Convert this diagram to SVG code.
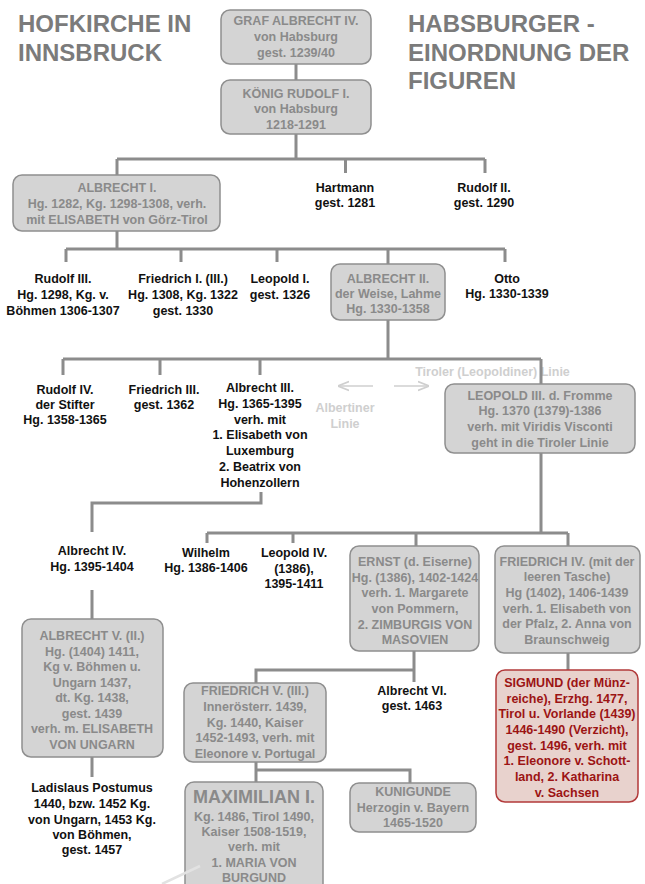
<svg xmlns="http://www.w3.org/2000/svg" width="645" height="884" viewBox="0 0 645 884">
<style>
text{font-family:"Liberation Sans",Arial,sans-serif;font-weight:bold;font-size:12.5px;text-anchor:middle}
.t{fill:#111}
.g{fill:#8a8a8a}
.r{fill:#9c1414}
.title{font-size:24px;fill:#7b7b7b;text-anchor:start}
.faint{fill:#cfcfcf}
.box{fill:#d4d4d4;stroke:#8f8f8f;stroke-width:1.5}
.rbox{fill:#e8d2cd;stroke:#b23a3a;stroke-width:1.5}
.c{fill:none;stroke:#8c8c8c;stroke-width:3}
.big{font-size:18px}
</style>
<defs>
<marker id="ah" viewBox="0 0 10 10" refX="9" refY="5" markerWidth="7" markerHeight="7" orient="auto">
<path d="M0,1 L10,5 L0,9" fill="none" stroke="#cfcfcf" stroke-width="1.6"/>
</marker>
</defs>
<rect width="645" height="884" fill="#fff"/>

<g id="titles">
<text class="title" x="18" y="32">HOFKIRCHE IN</text>
<text class="title" x="18" y="61">INNSBRUCK</text>
<text class="title" x="408" y="32">HABSBURGER -</text>
<text class="title" x="408" y="61">EINORDNUNG DER</text>
<text class="title" x="408" y="89">FIGUREN</text>
</g>

<g id="connectors">
<path class="c" d="M296,64 V80"/>
<path class="c" d="M296,134 V159 M117,159 H485 M117,159 V175 M345.5,159 V173 M485,159 V173"/>
<path class="c" d="M117,231 V249 M66,249 H505 M66,249 V262 M181,249 V262 M277,249 V262 M388,249 V264 M505,249 V262"/>
<path class="c" d="M388,320 V359 M63,359 H541 M63,359 V375 M160,359 V375 M260,359 V375"/>
<path class="c" d="M261,492 V503 H92 V532"/>
<path class="c" d="M92,590 V619 M92,757 V777"/>
<path class="c" d="M541,453 V533 M207,533 H568 M207,533 V543 M293,533 V543 M416,533 V546 M568,533 V546"/>
<path class="c" d="M568,653 V670"/>
<path class="c" d="M414,651 V682 M414,670 H256 V683"/>
<path class="c" d="M256,762 V782 M256,770 H410 V783"/>
</g>

<g id="lines-labels">
<text class="faint" x="492.5" y="375.5">Tiroler (Leopoldiner) Linie</text>
<path d="M541,359 V384" class="c"/>
<line x1="373" y1="386" x2="339" y2="386" stroke="#cfcfcf" stroke-width="1.6" marker-end="url(#ah)"/>
<line x1="394" y1="386" x2="428" y2="386" stroke="#cfcfcf" stroke-width="1.6" marker-end="url(#ah)"/>
<text class="faint" x="345"><tspan x="345" y="411.5">Albertiner</tspan><tspan x="345" y="427.5">Linie</tspan></text>
</g>

<g id="graf-albrecht-iv">
<rect class="box" x="221" y="10" width="150" height="54" rx="9"/>
<text class="g"><tspan x="296" y="24.5">GRAF ALBRECHT IV.</tspan><tspan x="296" y="41">von Habsburg</tspan><tspan x="296" y="57">gest. 1239/40</tspan></text>
</g>
<g id="rudolf-i">
<rect class="box" x="221" y="80" width="150" height="54" rx="9"/>
<text class="g"><tspan x="296" y="97.5">KÖNIG RUDOLF I.</tspan><tspan x="296" y="113">von Habsburg</tspan><tspan x="296" y="128.5">1218-1291</tspan></text>
</g>
<g id="albrecht-i">
<rect class="box" x="13" y="175" width="207" height="56" rx="9"/>
<text class="g"><tspan x="117" y="191.5">ALBRECHT I.</tspan><tspan x="117" y="207.5">Hg. 1282, Kg. 1298-1308, verh.</tspan><tspan x="117" y="223.5">mit ELISABETH von Görz-Tirol</tspan></text>
</g>
<g id="hartmann">
<text class="t"><tspan x="345" y="191.5">Hartmann</tspan><tspan x="345" y="206.5">gest. 1281</tspan></text>
</g>
<g id="rudolf-ii">
<text class="t"><tspan x="484" y="191.5">Rudolf II.</tspan><tspan x="484" y="206.5">gest. 1290</tspan></text>
</g>
<g id="rudolf-iii">
<text class="t"><tspan x="63" y="282.5">Rudolf III.</tspan><tspan x="63" y="298.5">Hg. 1298, Kg. v.</tspan><tspan x="63" y="314.5">Böhmen 1306-1307</tspan></text>
</g>
<g id="friedrich-i">
<text class="t"><tspan x="183" y="282.5">Friedrich I. (III.)</tspan><tspan x="183" y="298.5">Hg. 1308, Kg. 1322</tspan><tspan x="183" y="314.5">gest. 1330</tspan></text>
</g>
<g id="leopold-i">
<text class="t"><tspan x="280" y="282.5">Leopold I.</tspan><tspan x="280" y="298.5">gest. 1326</tspan></text>
</g>
<g id="albrecht-ii">
<rect class="box" x="331" y="264" width="114" height="56" rx="9"/>
<text class="g"><tspan x="388" y="282.5">ALBRECHT II.</tspan><tspan x="388" y="297.5">der Weise, Lahme</tspan><tspan x="388" y="312.5">Hg. 1330-1358</tspan></text>
</g>
<g id="otto">
<text class="t"><tspan x="507" y="282.5">Otto</tspan><tspan x="507" y="297.5">Hg. 1330-1339</tspan></text>
</g>
<g id="rudolf-iv">
<text class="t"><tspan x="65" y="393.5">Rudolf IV.</tspan><tspan x="65" y="408.5">der Stifter</tspan><tspan x="65" y="423.5">Hg. 1358-1365</tspan></text>
</g>
<g id="friedrich-iii">
<text class="t"><tspan x="164" y="393.5">Friedrich III.</tspan><tspan x="164" y="408.5">gest. 1362</tspan></text>
</g>
<g id="albrecht-iii">
<text class="t"><tspan x="260" y="391.5">Albrecht III.</tspan><tspan x="260" y="407.5">Hg. 1365-1395</tspan><tspan x="260" y="423.5">verh. mit</tspan><tspan x="260" y="439">1. Elisabeth von</tspan><tspan x="260" y="455">Luxemburg</tspan><tspan x="260" y="470.5">2. Beatrix von</tspan><tspan x="260" y="486.5">Hohenzollern</tspan></text>
</g>
<g id="leopold-iii">
<rect class="box" x="445" y="384" width="190" height="69" rx="9"/>
<text class="g"><tspan x="540" y="399.5">LEOPOLD III. d. Fromme</tspan><tspan x="540" y="414.5">Hg. 1370 (1379)-1386</tspan><tspan x="540" y="430.5">verh. mit Viridis Visconti</tspan><tspan x="540" y="446.5">geht in die Tiroler Linie</tspan></text>
</g>
<g id="albrecht-iv">
<text class="t"><tspan x="92" y="554.5">Albrecht IV.</tspan><tspan x="92" y="570.5">Hg. 1395-1404</tspan></text>
</g>
<g id="wilhelm">
<text class="t"><tspan x="206" y="557">Wilhelm</tspan><tspan x="206" y="572">Hg. 1386-1406</tspan></text>
</g>
<g id="leopold-iv">
<text class="t"><tspan x="294" y="557">Leopold IV.</tspan><tspan x="294" y="572.5">(1386),</tspan><tspan x="294" y="587.5">1395-1411</tspan></text>
</g>
<g id="ernst">
<rect class="box" x="350" y="546" width="129" height="105" rx="9"/>
<text class="g"><tspan x="415" y="565.5">ERNST (d. Eiserne)</tspan><tspan x="415" y="581.5">Hg. (1386), 1402-1424</tspan><tspan x="415" y="596.5">verh. 1. Margarete</tspan><tspan x="415" y="612.5">von Pommern,</tspan><tspan x="415" y="628.5">2. ZIMBURGIS VON</tspan><tspan x="415" y="643.5">MASOVIEN</tspan></text>
</g>
<g id="friedrich-iv">
<rect class="box" x="495" y="546" width="145" height="107" rx="9"/>
<text class="g"><tspan x="567" y="565.5">FRIEDRICH IV. (mit der</tspan><tspan x="567" y="580.5">leeren Tasche)</tspan><tspan x="567" y="596.5">Hg (1402), 1406-1439</tspan><tspan x="567" y="612.5">verh. 1. Elisabeth von</tspan><tspan x="567" y="627.5">der Pfalz, 2. Anna von</tspan><tspan x="567" y="643.5">Braunschweig</tspan></text>
</g>
<g id="albrecht-v">
<rect class="box" x="22" y="619" width="141" height="138" rx="9"/>
<text class="g"><tspan x="92" y="639.5">ALBRECHT V. (II.)</tspan><tspan x="92" y="655.5">Hg. (1404) 1411,</tspan><tspan x="92" y="670.5">Kg v. Böhmen u.</tspan><tspan x="92" y="686.5">Ungarn 1437,</tspan><tspan x="92" y="701.5">dt. Kg. 1438,</tspan><tspan x="92" y="717.5">gest. 1439</tspan><tspan x="92" y="732.5">verh. m. ELISABETH</tspan><tspan x="92" y="748.5">VON UNGARN</tspan></text>
</g>
<g id="sigmund">
<rect class="rbox" x="496" y="670" width="142" height="132" rx="9"/>
<text class="r"><tspan x="567" y="686.5">SIGMUND (der Münz-</tspan><tspan x="567" y="702.5">reiche), Erzhg. 1477,</tspan><tspan x="567" y="717.5">Tirol u. Vorlande (1439)</tspan><tspan x="567" y="733.5">1446-1490 (Verzicht),</tspan><tspan x="567" y="749.5">gest. 1496, verh. mit</tspan><tspan x="567" y="764.5">1. Eleonore v. Schott-</tspan><tspan x="567" y="780.5">land, 2. Katharina</tspan><tspan x="567" y="796.5">v. Sachsen</tspan></text>
</g>
<g id="albrecht-vi">
<text class="t"><tspan x="412" y="695">Albrecht VI.</tspan><tspan x="412" y="710">gest. 1463</tspan></text>
</g>
<g id="friedrich-v">
<rect class="box" x="184" y="683" width="142" height="79" rx="9"/>
<text class="g"><tspan x="255" y="694.5">FRIEDRICH V. (III.)</tspan><tspan x="255" y="710.5">Innerösterr. 1439,</tspan><tspan x="255" y="726.5">Kg. 1440, Kaiser</tspan><tspan x="255" y="741.5">1452-1493, verh. mit</tspan><tspan x="255" y="757.5">Eleonore v. Portugal</tspan></text>
</g>
<g id="ladislaus">
<text class="t"><tspan x="92" y="791.5">Ladislaus Postumus</tspan><tspan x="92" y="807.5">1440, bzw. 1452 Kg.</tspan><tspan x="92" y="823.5">von Ungarn, 1453 Kg.</tspan><tspan x="92" y="838.5">von Böhmen,</tspan><tspan x="92" y="853.5">gest. 1457</tspan></text>
</g>
<g id="maximilian-i">
<rect class="box" x="185" y="782" width="138" height="120" rx="9"/>
<text class="g"><tspan class="big" x="254" y="802.5">MAXIMILIAN I.</tspan><tspan x="254" y="820.5">Kg. 1486, Tirol 1490,</tspan><tspan x="254" y="835.5">Kaiser 1508-1519,</tspan><tspan x="254" y="851">verh. mit</tspan><tspan x="254" y="866.5">1. MARIA VON</tspan><tspan x="254" y="881.5">BURGUND</tspan></text>
</g>
<g id="kunigunde">
<rect class="box" x="350" y="783" width="126" height="49" rx="9"/>
<text class="g"><tspan x="413" y="796">KUNIGUNDE</tspan><tspan x="413" y="811.5">Herzogin v. Bayern</tspan><tspan x="413" y="827">1465-1520</tspan></text>
</g>
<line x1="200" y1="866" x2="162" y2="884" stroke="#e2e2e2" stroke-width="2.5"/>
</svg>
